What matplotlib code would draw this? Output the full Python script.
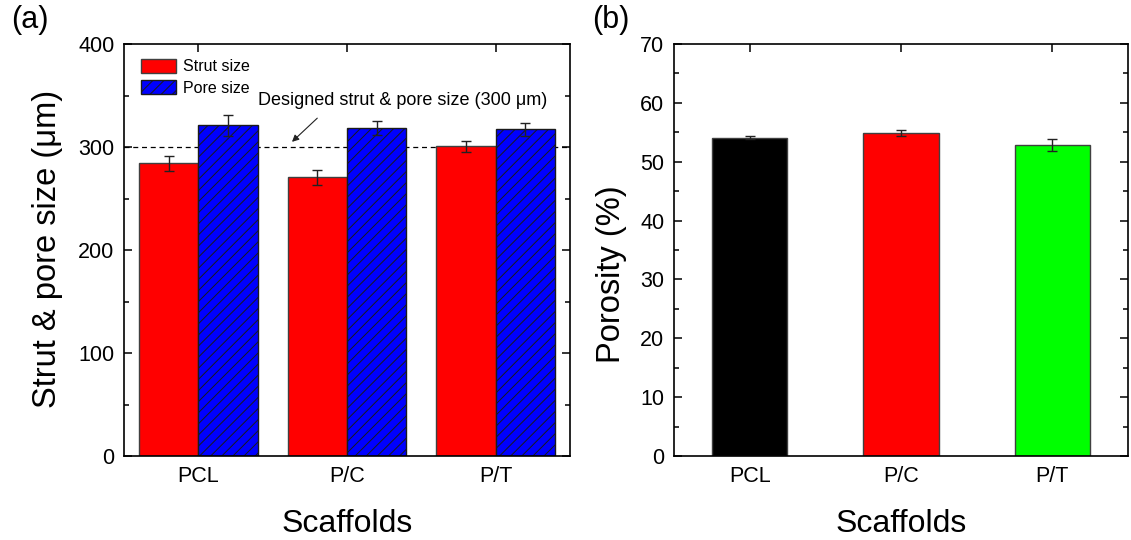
import matplotlib
matplotlib.use("Agg")
import matplotlib.pyplot as plt
import numpy as np
from matplotlib.ticker import MultipleLocator

plt.rcParams['font.family'] = ['Liberation Sans', 'DejaVu Sans']
plt.rcParams['hatch.linewidth'] = 0.7

# ---------------- data ----------------
scaffolds = ["PCL", "P/C", "P/T"]
strut_size = [284, 270.5, 300.5]
strut_err = [7.5, 7, 5.5]
pore_size = [321, 318.5, 317]
pore_err = [10, 7, 6]
designed_size = 300

porosity = [54.1, 54.9, 52.8]
porosity_err = [0.2, 0.5, 1.0]
porosity_colors = ["#000000", "#FF0000", "#00FF00"]

# ---------------- figure ----------------
fig = plt.figure(figsize=(11.31, 5.40), dpi=100)
axA = fig.add_axes([124/1131, 84/540, 446/1131, 412/540])
axB = fig.add_axes([674/1131, 84/540, 454/1131, 412/540])

edge = "#404040"
x = np.arange(len(scaffolds))
w = 0.4
ekw = dict(elinewidth=1, capthick=1, ecolor="#222222")

axA.bar(x - w/2, strut_size, w, color="#FF0000", edgecolor=edge, linewidth=1,
        yerr=strut_err, capsize=3.5, error_kw=ekw, label="Strut size", zorder=2)
axA.bar(x + w/2, pore_size, w, color="#0000FF", edgecolor="#1a1a1a", linewidth=1, hatch="///",
        yerr=pore_err, capsize=3.5, error_kw=ekw, label="Pore size", zorder=2)
axA.axhline(designed_size, color="black", linestyle=(0, (4, 3)), linewidth=0.9, zorder=1)
axA.text(1.375, 345, "Designed strut & pore size (300 \u03bcm)", fontsize=13,
         ha="center", va="center", zorder=3)
axA.annotate("", xy=(0.63, 305), xytext=(0.80, 328),
             arrowprops=dict(arrowstyle="-|>", color="#222222", lw=0.8,
                             mutation_scale=10, shrinkA=0, shrinkB=0),
             zorder=3)
axA.set_xlim(-0.5, 2.5)
axA.set_ylim(0, 400)
axA.set_xticks(x)
axA.set_xticklabels(scaffolds)
axA.yaxis.set_major_locator(MultipleLocator(100))
axA.yaxis.set_minor_locator(MultipleLocator(50))
axA.set_ylabel("Strut & pore size (\u03bcm)", fontsize=23.5)
axA.set_xlabel("Scaffolds", fontsize=23)
axA.legend(loc="upper left", frameon=False, fontsize=11.5, handlelength=2.2,
           handleheight=1.0, handletextpad=0.4, labelspacing=0.35,
           borderaxespad=0.4, bbox_to_anchor=(0.01, 0.995))

axB.bar(x, porosity, 0.5, color=porosity_colors, edgecolor=edge, linewidth=1,
        yerr=porosity_err, capsize=3.5, error_kw=ekw, zorder=2)
axB.set_xlim(-0.5, 2.5)
axB.set_ylim(0, 70)
axB.set_xticks(x)
axB.set_xticklabels(scaffolds)
axB.yaxis.set_major_locator(MultipleLocator(10))
axB.yaxis.set_minor_locator(MultipleLocator(5))
axB.set_ylabel("Porosity (%)", fontsize=23.5)
axB.set_xlabel("Scaffolds", fontsize=23)

for ax in (axA, axB):
    for s in ax.spines.values():
        s.set_linewidth(1.2)
    ax.tick_params(which="both", direction="in", top=True, right=True,
                   width=1.1, labelsize=15.5, pad=7)
    ax.tick_params(which="major", length=6)
    ax.tick_params(which="minor", length=3.5)
    ax.tick_params(axis="x", which="minor", bottom=False, top=False)

axA.yaxis.set_label_coords(-0.137, 0.502)
axB.yaxis.set_label_coords(-0.104, 0.442)
axA.xaxis.set_label_coords(0.5, -0.129)
axB.xaxis.set_label_coords(0.5, -0.129)

fig.text(30/1131, 1 - 20/540, "(a)", fontsize=22, ha="center", va="center")
fig.text(611/1131, 1 - 20/540, "(b)", fontsize=22, ha="center", va="center")

fig.savefig("out.png", dpi=100)
